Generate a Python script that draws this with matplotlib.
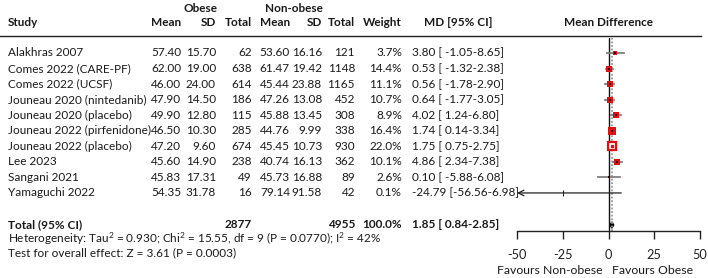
import matplotlib
matplotlib.use("Agg")
import matplotlib.pyplot as plt
from matplotlib.patches import Polygon

plt.rcParams['font.family'] = ['Lato', 'DejaVu Sans']
plt.rcParams['mathtext.fontset'] = 'custom'
plt.rcParams['mathtext.rm'] = 'Lato'
plt.rcParams['mathtext.it'] = 'Lato:italic'
plt.rcParams['mathtext.bf'] = 'Lato:bold'

studies = ["Alakhras 2007", "Comes 2022 (CARE-PF)", "Comes 2022 (UCSF)",
           "Jouneau 2020 (nintedanib)", "Jouneau 2020 (placebo)",
           "Jouneau 2022 (pirfenidone)", "Jouneau 2022 (placebo)", "Lee 2023",
           "Sangani 2021", "Yamaguchi 2022"]
ob_mean = [57.40, 62.00, 46.00, 47.90, 49.90, 46.50, 47.20, 45.60, 45.83, 54.35]
ob_sd = [15.70, 19.00, 24.00, 14.50, 12.80, 10.30, 9.60, 14.90, 17.31, 31.78]
ob_n = [62, 638, 614, 186, 115, 285, 674, 238, 49, 16]
no_mean = [53.60, 61.47, 45.44, 47.26, 45.88, 44.76, 45.45, 40.74, 45.73, 79.14]
no_sd = [16.16, 19.42, 23.88, 13.08, 13.45, 9.99, 10.73, 16.13, 16.88, 91.58]
no_n = [121, 1148, 1165, 452, 308, 338, 930, 362, 89, 42]
weight = [3.7, 14.4, 11.1, 10.7, 8.9, 16.4, 22.0, 10.1, 2.6, 0.1]
md = [3.80, 0.53, 0.56, 0.64, 4.02, 1.74, 1.75, 4.86, 0.10, -24.79]
ci_lo = [-1.05, -1.32, -1.78, -1.77, 1.24, 0.14, 0.75, 2.34, -5.88, -56.56]
ci_hi = [8.65, 2.38, 2.90, 3.05, 6.80, 3.34, 2.75, 7.38, 6.08, 6.98]
tot_ob, tot_no = 2877, 4955
tot_md, tot_lo, tot_hi = 1.85, 0.84, 2.85
xticks = [-50, -25, 0, 25, 50]

W, H = 708, 278
fig = plt.figure(figsize=(W / 100, H / 100), dpi=100)
tab = fig.add_axes([0, 0, 1, 1])
tab.set_xlim(0, W)
tab.set_ylim(H, 0)
tab.axis('off')

FS = 8.5
TC = '#1a1a1a'
row_y0, row_dy = 53, 15.55

def t(x, y, s, ha='left', bold=False, fs=FS):
    tab.text(x, y, s, ha=ha, va='center', fontsize=fs,
             fontweight='bold' if bold else 'normal', color=TC)

# headers
t(201, 8, "Obese", 'center', True)
t(294, 8, "Non-obese", 'center', True)
t(8, 23, "Study", 'left', True)
for x, s in [(181, "Mean"), (216, "SD"), (252, "Total"), (290, "Mean"),
             (322, "SD"), (355, "Total"), (402, "Weight")]:
    t(x, 23, s, 'right', True)
t(458, 23, "MD [95% CI]", 'center', True)
t(608, 23, "Mean Difference", 'center', True)
tab.plot([0, 701], [36, 36], color='#222222', lw=1)

for i, name in enumerate(studies):
    y = row_y0 + i * row_dy
    t(8, y, name)
    t(181, y, f"{ob_mean[i]:.2f}", 'right')
    t(216, y, f"{ob_sd[i]:.2f}", 'right')
    t(252, y, f"{ob_n[i]}", 'right')
    t(290, y, f"{no_mean[i]:.2f}", 'right')
    t(322, y, f"{no_sd[i]:.2f}", 'right')
    t(355, y, f"{no_n[i]}", 'right')
    t(402, y, f"{weight[i]:.1f}%", 'right')
    sp = " " if ci_lo[i] > -10 else ""
    t(412, y, f"{md[i]:.2f} [{sp}{ci_lo[i]:.2f}-{ci_hi[i]:.2f}]")

ty = 225
t(8, ty, "Total (95% CI)", 'left', True)
t(252, ty, f"{tot_ob}", 'right', True)
t(355, ty, f"{tot_no}", 'right', True)
t(402, ty, f"{sum(weight):.1f}%", 'right', True)
t(412, ty, f"{tot_md:.2f} [ {tot_lo:.2f}-{tot_hi:.2f}]", 'left', True)
t(8, 239, r"Heterogeneity: Tau$^{2}$ = 0.930; Chi$^{2}$ = 15.55, df = 9 (P = 0.0770); I$^{2}$ = 42%")
t(8, 253, "Test for overall effect: Z = 3.61 (P = 0.0003)")

# forest axes
x0, x1 = 517, 700
ytop, ybot = 38, 231
ax = fig.add_axes([x0 / W, 1 - ybot / H, (x1 - x0) / W, (ybot - ytop) / H])
ax.set_xlim(-50, 50)
ax.set_ylim((ybot - row_y0) / row_dy, (ytop - row_y0) / row_dy)
ax.patch.set_alpha(0)
for s in ['top', 'right', 'left']:
    ax.spines[s].set_visible(False)
ax.spines['bottom'].set_color('#222222')
ax.spines['bottom'].set_linewidth(1)
ax.set_yticks([])
ax.set_xticks(xticks)
ax.set_xticklabels([str(v) for v in xticks])
ax.tick_params(axis='x', direction='out', length=6, width=1, pad=7,
               labelsize=9.2, colors='#222222')

ax.axvline(0, color='#111111', lw=1)
ax.axvline(tot_md, color='#999999', lw=1.3, ls=(0, (1, 1)))

red = '#e01010'
for i in range(len(studies)):
    y = i
    if ci_lo[i] < -50:
        ax.annotate('', xy=(-50, y), xytext=(ci_hi[i], y),
                    arrowprops=dict(arrowstyle='->', lw=0.9, color='#222222',
                                    shrinkA=0, shrinkB=0))
        ax.plot([md[i]], [y], marker='|', ms=4, color='#222222', mew=0.8)
        continue
    ax.plot([ci_lo[i], ci_hi[i]], [y, y], color='#808080', lw=1.3)
    size = 1.8 * weight[i] ** 0.5 * 0.72
    if weight[i] >= 20:
        ax.plot([md[i]], [y], marker='s', ms=size, mfc='white', mec=red, mew=1.6)
        ax.plot([md[i]], [y], marker='s', ms=1.5, color=red)
    else:
        ax.plot([md[i]], [y], marker='s', ms=size, color=red, mew=0)
        ax.plot([md[i]], [y], marker='s', ms=1.6, color='#3a0000', mew=0)

ty_r = (225 - row_y0) / row_dy
ax.add_patch(Polygon([(tot_lo, ty_r), (tot_md, ty_r - 0.2), (tot_hi, ty_r),
                      (tot_md, ty_r + 0.2)], closed=True, color='black'))

t(550, 271, "Favours Non-obese", 'center', fs=8.8)
t(653, 271, "Favours Obese", 'center', fs=8.8)

fig.savefig("out.png", dpi=100)
